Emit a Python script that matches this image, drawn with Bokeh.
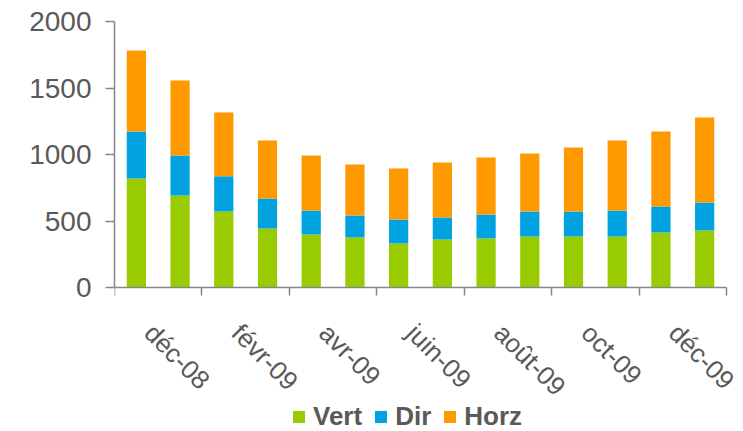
import math
from bokeh.plotting import figure
from bokeh.models import ColumnDataSource, Range1d, FixedTicker, Legend, LinearAxis
from bokeh.core.properties import value
from bokeh.embed import file_html
from bokeh.resources import INLINE

months = ["déc-08", "janv-09", "févr-09", "mars-09", "avr-09", "mai-09", "juin-09",
          "juil-09", "août-09", "sept-09", "oct-09", "nov-09", "déc-09", "janv-10"]
vert = [820, 692, 571, 444, 398, 376, 331, 361, 368, 383, 383, 383, 414, 429]
dir_ = [353, 300, 266, 225, 181, 165, 180, 165, 181, 188, 188, 196, 195, 210]
horz = [609, 564, 479, 436, 413, 384, 384, 414, 428, 437, 482, 526, 564, 639]
y_ticks = [0, 500, 1000, 1500, 2000]

series = ["Vert", "Dir", "Horz"]
colors = ["#99CC00", "#00A3E0", "#FF9900"]

src = ColumnDataSource(dict(x=list(range(len(months))), Vert=vert, Dir=dir_, Horz=horz))

FONT = "Liberation Sans"
TXT = "#595959"
AX = "#868686"

W, H = 743, 431
TOP, LEFT = 21, 114
PLOT_W = 612          # pixels spanned by the categories
PLOT_H = 266          # pixels from 0 to 2000
Y_MAX = y_ticks[-1]
n = len(months)
frame_h = H - TOP
frame_w = W - LEFT
y_min = -Y_MAX * (frame_h - PLOT_H) / PLOT_H
x_max = -0.5 + n * frame_w / PLOT_W

p = figure(width=W, height=H, output_backend="svg", toolbar_location=None,
           x_axis_location=None,
           x_range=Range1d(-0.5, x_max), y_range=Range1d(y_min, Y_MAX),
           min_border_left=LEFT, min_border_right=0, min_border_top=TOP, min_border_bottom=0)
p.outline_line_color = None
p.xgrid.visible = False
p.ygrid.visible = False

rs = p.vbar_stack(series, x="x", width=0.44, source=src, color=colors, line_color=None)

# y axis
p.yaxis.ticker = FixedTicker(ticks=y_ticks, minor_ticks=[])
p.yaxis.bounds = (0, Y_MAX)
p.yaxis.axis_line_color = AX
p.yaxis.axis_line_width = 1.5
p.yaxis.major_tick_line_color = AX
p.yaxis.major_tick_line_width = 1.5
p.yaxis.major_tick_out = 9
p.yaxis.major_tick_in = 0
p.yaxis.minor_tick_line_color = None
p.yaxis.major_label_text_font = FONT
p.yaxis.major_label_text_font_size = "28px"
p.yaxis.major_label_text_color = TXT
p.yaxis.major_label_standoff = 14

# x axis line at y=0, tick marks at every other category boundary
bounds = [i - 0.5 for i in range(0, n + 1, 2)]
xaxis = LinearAxis(fixed_location=0, bounds=(-0.5, n - 0.5),
                   ticker=FixedTicker(ticks=[], minor_ticks=bounds),
                   axis_line_color=AX, axis_line_width=1.5,
                   major_tick_line_color=None, major_tick_in=0, major_tick_out=0,
                   minor_tick_line_color=AX, minor_tick_line_width=1.5,
                   minor_tick_in=8, minor_tick_out=0,
                   major_label_text_font_size="0px", major_label_standoff=0)
p.add_layout(xaxis, "above")

# month labels every other category, rotated
label_idx = list(range(0, n, 2))
lab_src = ColumnDataSource(dict(x=[i + 0.29 for i in label_idx],
                                y=[0] * len(label_idx),
                                text=[months[i] for i in label_idx]))
p.text(x="x", y="y", text="text", source=lab_src, angle=-math.pi / 4,
       y_offset=41, text_align="left", text_baseline="middle",
       text_font=value(FONT), text_font_size=value("26px"), text_color=TXT)

legend = Legend(items=[(s, [r]) for s, r in zip(series, rs)], location=(177, -1),
                orientation="horizontal", padding=0, margin=0, spacing=11,
                glyph_width=15, glyph_height=15, label_standoff=7, label_height=15,
                label_text_font=FONT, label_text_font_size="26px", label_text_font_style="bold",
                label_text_color=TXT, border_line_color=None, background_fill_alpha=0)
p.add_layout(legend, "center")

open("out.html", "w").write(file_html(p, INLINE))
